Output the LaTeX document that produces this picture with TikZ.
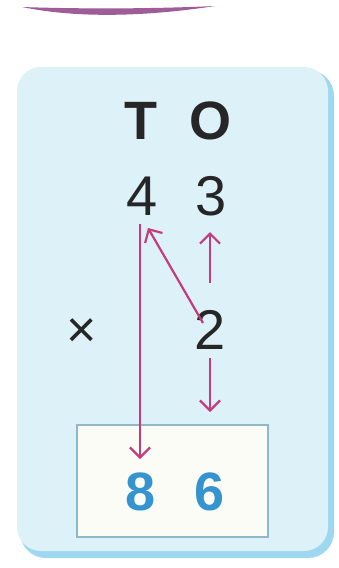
\documentclass[tikz,border=0pt]{standalone}
\usepackage{fontspec}
\setmainfont{Liberation Sans}
\usetikzlibrary{arrows.meta}
\definecolor{panel}{HTML}{DDF1F9}
\definecolor{panelshadow}{HTML}{9ED8F0}
\definecolor{boxfill}{HTML}{FBFCF6}
\definecolor{boxline}{HTML}{8FB8C8}
\definecolor{arrowc}{HTML}{C43C7C}
\definecolor{ansblue}{HTML}{3594CF}
\definecolor{swoosh}{HTML}{9E5C98}
\tikzset{
  digit/.style={font=\fontsize{56}{56}\selectfont, text=black!85, inner sep=0pt},
  head/.style={font=\fontsize{54}{54}\selectfont\bfseries, text=black!85, inner sep=0pt},
  ans/.style={font=\fontsize{54}{54}\selectfont\bfseries, text=ansblue, inner sep=0pt},
  marrow/.style={draw=arrowc, line width=2.2pt, -{Straight Barb[length=10pt,width=20pt,line width=2.2pt]}}
}
\begin{document}
\begin{tikzpicture}[x=1pt,y=-1pt]
\useasboundingbox (0,0) rectangle (338,568);
\fill[white] (0,0) rectangle (338,568);
% top swoosh
\fill[swoosh] (22,7) .. controls (80,19) and (150,16) .. (215,6) .. controls (150,9) and (80,9) .. (22,7) -- cycle;
% panel with shadow
\fill[panelshadow, rounded corners=26pt] (20,70) rectangle (334,558);
\fill[panel, rounded corners=24pt] (17,67) rectangle (328,551);
% answer box
\node[draw=boxline, fill=boxfill, line width=1.2pt, minimum width=191pt, minimum height=112pt, inner sep=0pt] (box) at (172.5,481) {};
% headers
\node[head] (T) at (141,121) {T};
\node[head] (O) at (210,121) {O};
% digits
\node[digit] (four) at (142,196) {4};
\node[digit] (three) at (211,196) {3};
\node[digit] (two) at (210,330) {2};
\node[font=\fontsize{52}{52}\selectfont, text=black!85, inner sep=0pt] (times) at (82,333) {×};
% answer
\node[ans] (eight) at (141,492) {8};
\node[ans] (six) at (210,492) {6};
% arrows
\coordinate (a1s) at (140,224);
\coordinate (a1e) at (140,459);
\draw[marrow] (a1s) -- (a1e);
\coordinate (a2s) at (203,323);
\coordinate (a2e) at (148,228);
\draw[marrow] (a2s) -- (a2e);
\coordinate (a3s) at (210,283);
\coordinate (a3e) at (210,232);
\draw[marrow] (a3s) -- (a3e);
\coordinate (a4s) at (210,358);
\coordinate (a4e) at (210,412);
\draw[marrow] (a4s) -- (a4e);
\end{tikzpicture}
\end{document}
